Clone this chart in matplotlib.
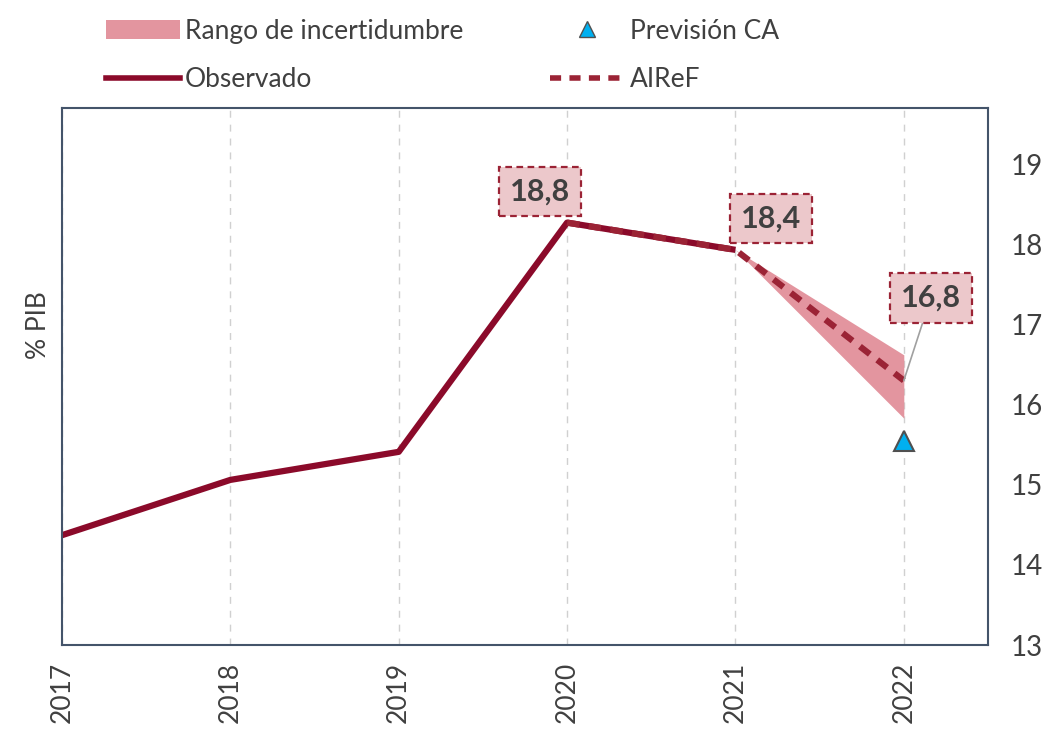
import numpy as np
import matplotlib.pyplot as plt
from matplotlib.lines import Line2D
from matplotlib.patches import Patch

plt.rcParams['font.family'] = ['Lato', 'DejaVu Sans']

# data
years = [2017, 2018, 2019, 2020, 2021, 2022]
observado = [14.37, 15.06, 15.41, 18.27, 17.93]
airef_years = [2020, 2021, 2022]
airef = [18.27, 17.93, 16.30]
band_years = [2021, 2022]
band_low = [17.93, 15.83]
band_high = [17.93, 16.62]
prevision_year = 2022
prevision_ca = 15.54
label_texts = ["18,8", "18,4", "16,8"]

dark_red = "#8b0a2a"
dash_red = "#9b2335"
band_color = "#e3959f"
box_face = "#ecc8cb"

fig = plt.figure(figsize=(10.51, 7.31), dpi=100)
ax = fig.add_axes([62/1051, 1-645/731, (988-62)/1051, (645-108)/731])

# grid
for yr in years:
    ax.axvline(yr, color="#d0d0d0", linestyle=(0, (5, 5)), linewidth=1, zorder=0)

ax.fill_between(band_years, band_low, band_high, color=band_color, linewidth=0, zorder=1)
ax.plot(years[:5], observado, color=dark_red, linewidth=4.5, solid_capstyle="butt", zorder=2)
ax.plot(airef_years, airef, color=dash_red, linewidth=4.5, linestyle=(0, (2, 1.5)), zorder=3)
ax.plot([prevision_year], [prevision_ca], marker="^", markersize=14, color="#00b0f0",
        markeredgecolor="#505050", markeredgewidth=1.5, linestyle="none", zorder=4)

# labels
box = dict(boxstyle="square,pad=0.35", facecolor=box_face, edgecolor=dash_red,
           linestyle=(0, (3, 2)), linewidth=1.6)
ax.text(2019.84, 18.66, label_texts[0], ha="center", va="center", fontsize=22,
        fontweight="bold", color="#404040", bbox=box, zorder=5)
ax.text(2021.21, 18.32, label_texts[1], ha="center", va="center", fontsize=22,
        fontweight="bold", color="#404040", bbox=box, zorder=5)
ax.annotate(label_texts[2], xy=(2022, airef[-1]), xytext=(2022.16, 17.33), ha="center", va="center",
            fontsize=22, fontweight="bold", color="#404040", bbox=box, zorder=5,
            arrowprops=dict(arrowstyle="-", color="#a0a0a0", linewidth=1.2, shrinkA=0, shrinkB=0))

ax.set_xlim(2017, 2022.5)
ax.set_ylim(13, 19.7)
ax.set_xticks(years)
ax.set_xticklabels([str(y) for y in years], rotation=90, fontsize=19, color="#404040")
ax.tick_params(axis="x", length=0, pad=12)
ax.yaxis.tick_right()
ax.set_yticks(range(13, 20))
ax.tick_params(axis="y", length=0, pad=16, labelsize=20, labelcolor="#404040")
for s in ax.spines.values():
    s.set_color("#44546a")
    s.set_linewidth(1.5)

fig.text(38/1051, 1-325/731, "% PIB", rotation=90, ha="center", va="center",
         fontsize=19, color="#404040")

h_band = Patch(facecolor=band_color, edgecolor="none")
h_prev = Line2D([], [], marker="^", color="#00b0f0", markeredgecolor="#505050", markersize=11, linestyle="none")
h_obs = Line2D([], [], color=dark_red, linewidth=4)
h_air = Line2D([], [], color=dash_red, linewidth=4, linestyle=(0, (2, 1.5)))
fig.legend([h_band, h_obs, h_prev, h_air],
           ["Rango de incertidumbre", "Observado", "Previsión CA", "AIReF"],
           ncol=2, loc="upper left", bbox_to_anchor=(82/1051, 1.007), frameon=False,
           fontsize=19, labelcolor="#404040", handlelength=2.8, handletextpad=0.2,
           columnspacing=3.3, labelspacing=0.9)

fig.savefig("out.png", dpi=100)
